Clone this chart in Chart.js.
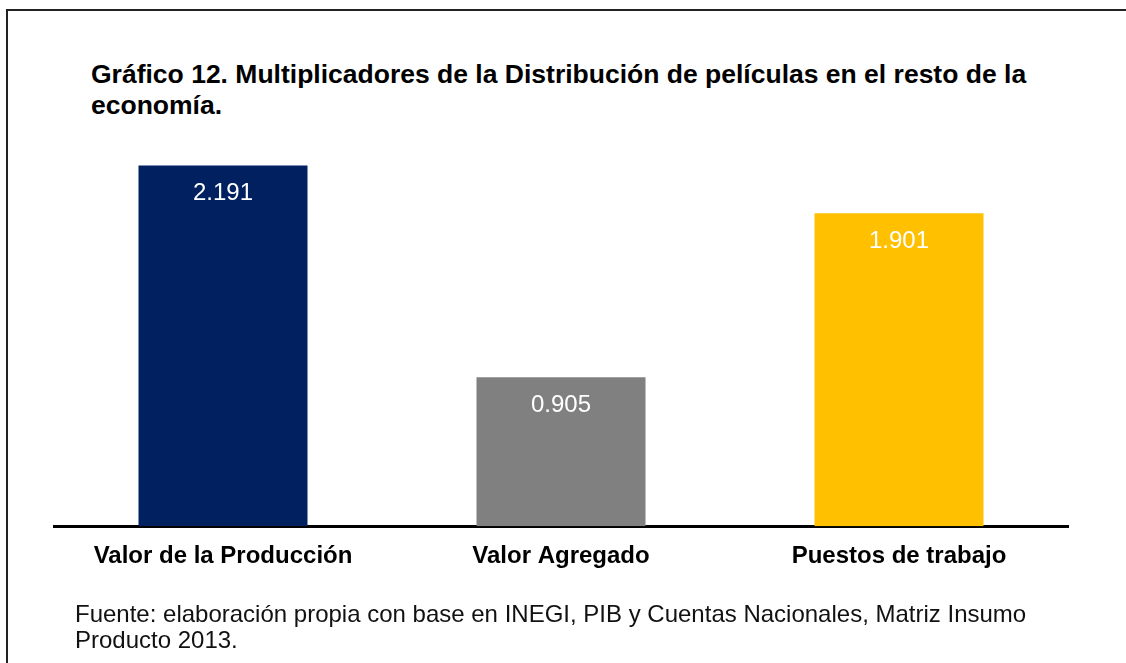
<!DOCTYPE html>
<html lang="es">
<head>
<meta charset="utf-8">
<title>Gráfico 12</title>
<script src="https://cdn.jsdelivr.net/npm/chart.js@4.4.0/dist/chart.umd.min.js"></script>
<style>
  html, body { margin: 0; padding: 0; background: #fff; }
  body { width: 1126px; height: 663px; position: relative; overflow: hidden;
         font-family: "Liberation Sans", Arial, sans-serif; color: #000; }
  #frame { position: absolute; left: 6px; top: 9px; width: 1140px; height: 700px;
           border-top: 2px solid #222; border-left: 2px solid #222; }
  #title { position: absolute; left: 91px; top: 59px; font-size: 26.5px; font-weight: bold;
           line-height: 31px; white-space: nowrap; }
  #source { position: absolute; left: 75px; top: 601px; font-size: 24px;
            line-height: 26px; white-space: nowrap; color: #111; }
  #chart { position: absolute; left: 0; top: 0; }
</style>
</head>
<body>
<div id="frame"></div>
<div id="title">Gráfico 12. Multiplicadores de la Distribución de películas en el resto de la<br>economía.</div>
<canvas id="chart" width="1126" height="663"></canvas>
<div id="source">Fuente: elaboración propia con base en INEGI, PIB y Cuentas Nacionales, Matriz Insumo<br>Producto 2013.</div>
<script>
'use strict';

// ---------------------------------------------------------------------------
// Data
// ---------------------------------------------------------------------------

const categories = ['Valor de la Producción', 'Valor Agregado', 'Puestos de trabajo'];
const values     = [2.191, 0.905, 1.901];
const barColors  = ['#002060', '#808080', '#FFC000'];

const FONT = '"Liberation Sans", Arial, sans-serif';

// value labels drawn inside the top of each bar
const insideLabels = {
  id: 'insideLabels',
  afterDatasetsDraw(chart) {
    const { ctx } = chart;
    const meta = chart.getDatasetMeta(0);
    ctx.save();
    ctx.fillStyle = '#fff';
    ctx.font = `24px ${FONT}`;
    ctx.textAlign = 'center';
    ctx.textBaseline = 'middle';
    meta.data.forEach((bar, i) => {
      ctx.fillText(values[i].toFixed(3), bar.x, bar.y + 28);
    });
    ctx.restore();
  },
};

new Chart(document.getElementById('chart').getContext('2d'), {
  type: 'bar',
  data: {
    labels: categories,
    datasets: [{
      data:               values,
      backgroundColor:    barColors,
      borderWidth:        0,
      categoryPercentage: 1.0,
      barPercentage:      0.5,
    }],
  },
  options: {
    responsive: false,
    animation: false,
    layout: { padding: { left: 54, right: 58, top: 131, bottom: 76 } },
    plugins: {
      legend:  { display: false },
      tooltip: { enabled: false },
    },
    scales: {
      x: {
        z: 1,
        grid:   { display: false, drawTicks: false },
        border: { display: true, color: '#000', width: 3 },
        ticks:  {
          color: '#000',
          padding: 16,
          maxRotation: 0,
          font: { family: FONT, size: 24, weight: 'bold' },
        },
      },
      y: {
        display: false,
        min: 0,
        max: 2.4,
      },
    },
  },
  plugins: [insideLabels],
});
</script>
</body>
</html>
